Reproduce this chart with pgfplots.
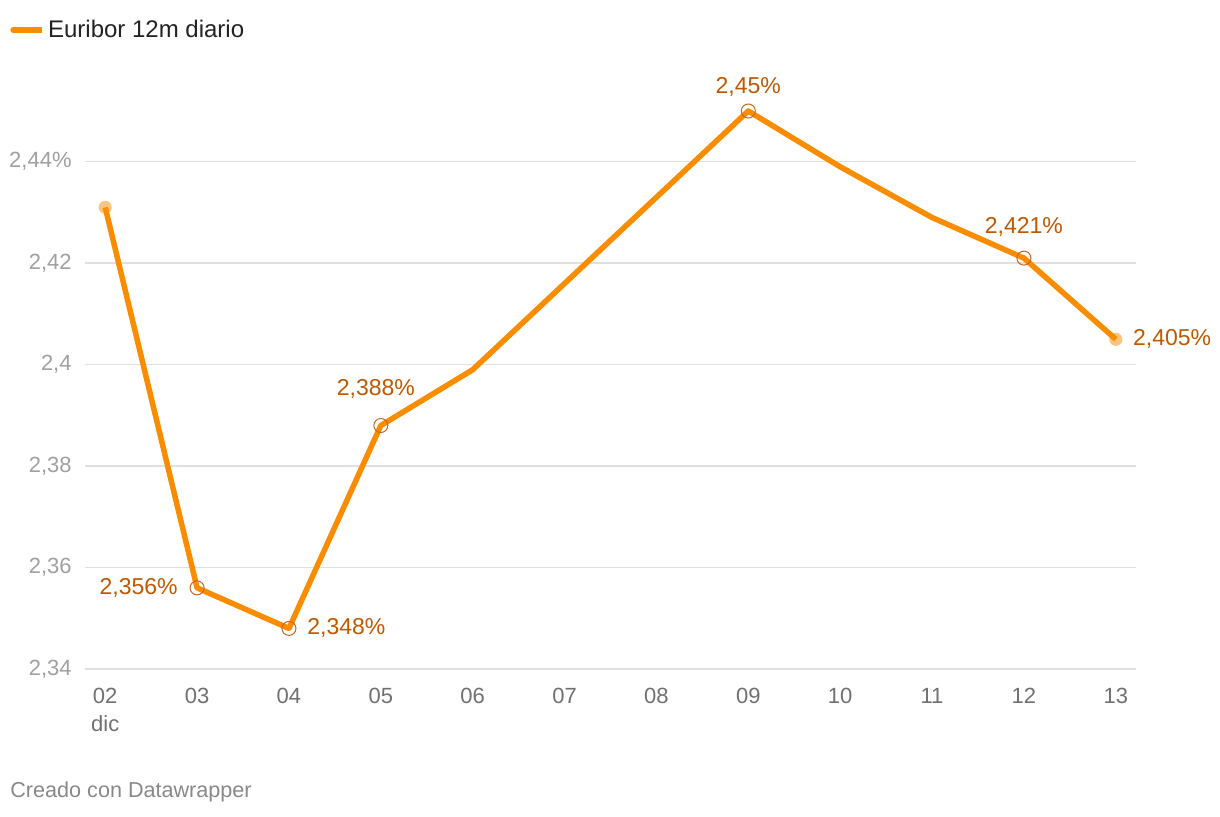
\documentclass[border=0pt]{standalone}
\usepackage{pgfplots}
\pgfplotsset{compat=1.18}
\usepackage{fontspec}
\setmainfont{Liberation Sans}

\definecolor{linecol}{RGB}{250,140,0}
\definecolor{labcol}{RGB}{192,88,0}
\definecolor{ringcol}{RGB}{200,100,30}
\definecolor{gridcol}{RGB}{224,224,224}
\definecolor{ytickcol}{RGB}{160,160,160}
\definecolor{xtickcol}{RGB}{112,112,112}
\definecolor{footcol}{RGB}{136,136,136}
\definecolor{legcol}{RGB}{34,34,34}

\begin{document}
\begin{tikzpicture}
\path[use as bounding box] (0,0) rectangle (610pt,408pt);
\begin{axis}[
    at={(42.5pt,73.5pt)}, anchor=south west,
    scale only axis,
    width=525.5pt, height=279pt,
    xmin=-0.22, xmax=11.22,
    ymin=2.34, ymax=2.45,
    clip=false,
    axis line style={draw=none},
    major tick length=0pt,
    tick style={draw=none},
    ymajorgrids,
    grid style={gridcol, line width=0.75pt},
    ytick={2.34,2.36,2.38,2.40,2.42,2.44},
    yticklabels={{2,34},{2,36},{2,38},{2,4},{2,42},{2,44\%}},
    yticklabel style={anchor=east, inner sep=0pt, xshift=-6.5pt,
        font=\fontsize{11}{13}\selectfont, text=ytickcol},
    xtick={0,1,2,3,4,5,6,7,8,9,10,11},
    xticklabels={{02\\dic},03,04,05,06,07,08,09,10,11,12,13},
    xticklabel style={anchor=north, inner sep=0pt, yshift=-9.5pt, align=center,
        font=\fontsize{11}{14}\selectfont, text=xtickcol},
    legend style={at={(axis description cs:-0.0714,1.1452)}, anchor=west,
        draw=none, fill=none, inner sep=0pt,
        font=\fontsize{12}{14}\selectfont, text=legcol,
        nodes={inner sep=1.5pt}},
    legend image code/.code={
        \draw[linecol, line width=3pt, line cap=round] (0pt,0pt) -- (12.5pt,0pt);
        \path (0pt,0pt) -- (14.5pt,0pt);},
]
\addplot[linecol, line width=2.75pt, line join=round, mark=none] coordinates {
    (0,2.431) (1,2.356) (2,2.348) (3,2.388) (4,2.399) (5,2.416)
    (6,2.433) (7,2.450) (8,2.439) (9,2.429) (10,2.421) (11,2.405)
};
\addlegendentry{Euribor 12m diario}

% start and end points
\addplot[forget plot, only marks, color=linecol, mark=*, mark size=3.3pt,
    mark options={fill=linecol, fill opacity=0.5, draw opacity=0}]
    coordinates {(0,2.431) (11,2.405)};

% labelled points
\addplot[forget plot, only marks, color=ringcol, mark=o, mark size=3.5pt,
    mark options={line width=0.5pt}] coordinates {
    (1,2.356) (2,2.348) (3,2.388) (7,2.450) (10,2.421)
};

\begin{scope}[every node/.style={font=\fontsize{11.5}{13}\selectfont, text=labcol, inner sep=0pt}]
\node[anchor=east, xshift=-9.5pt] at (axis cs:1,2.356) {2,356\%};
\node[anchor=west, xshift=9pt] at (axis cs:2,2.348) {2,348\%};
\node[xshift=-2.5pt, yshift=18.5pt] at (axis cs:3,2.388) {2,388\%};
\node[yshift=12pt] at (axis cs:7,2.450) {2,45\%};
\node[yshift=15.5pt] at (axis cs:10,2.421) {2,421\%};
\node[anchor=west, xshift=8.5pt] at (axis cs:11,2.405) {2,405\%};
\end{scope}
\end{axis}
\node[anchor=west, inner sep=0pt, font=\fontsize{10.8}{13}\selectfont, text=footcol]
    at (5pt,12pt) {Creado con Datawrapper};
\end{tikzpicture}
\end{document}
